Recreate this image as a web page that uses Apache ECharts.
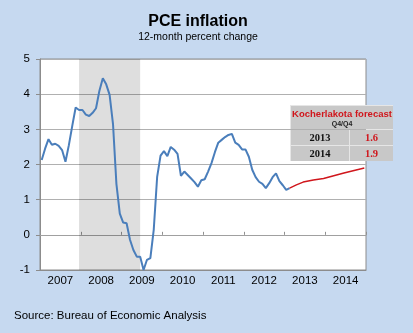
<!DOCTYPE html>
<html>
<head>
<meta charset="utf-8">
<script src="https://cdn.jsdelivr.net/npm/echarts@6/dist/echarts.min.js"></script>
<style>
  html, body { margin: 0; padding: 0; background: #c6d9f0; }
  #chart { width: 413px; height: 333px; }
</style>
</head>
<body>
<div id="chart"></div>
<script>
// PCE inflation, 12-month percent change, monthly from Jan 2007
const startYear = 2007;
const yearLabels = ['2007', '2008', '2009', '2010', '2011', '2012', '2013', '2014'];
const pceActual = [
  2.13, 2.45, 2.72, 2.56, 2.59, 2.53, 2.41, 2.08, 2.55, 3.10, 3.62, 3.55,
  3.55, 3.42, 3.38, 3.47, 3.60, 4.10, 4.45, 4.28, 3.98, 3.15, 1.45, 0.60,
  0.35, 0.33, -0.14, -0.43, -0.62, -0.62, -1.00, -0.71, -0.66, 0.15, 1.65, 2.25,
  2.38, 2.24, 2.50, 2.42, 2.30, 1.68, 1.80, 1.70, 1.60, 1.50, 1.37, 1.55,
  1.58, 1.80, 2.04, 2.35, 2.62, 2.70, 2.78, 2.84, 2.87, 2.62, 2.56, 2.43,
  2.43, 2.22, 1.85, 1.64, 1.51, 1.45, 1.33, 1.47, 1.64, 1.75, 1.53, 1.41,
  1.28, 1.33
];
// Forecast path: months since Jan 2007 and percent
const forecastMonths = [73, 75, 77, 80, 83, 86, 89, 92, 95];
const forecastPath   = [1.33, 1.42, 1.50, 1.56, 1.60, 1.68, 1.76, 1.83, 1.90];
// Forecast table (Q4/Q4)
const forecastYears = ['2013', '2014'];
const forecastValues = [1.6, 1.9];
// Recession: Dec 2007 to Jun 2009 (month indices)
const recessionStart = 11;
const recessionEnd = 29;
const yTicks = [-1, 0, 1, 2, 3, 4, 5];

const FONT = 'Liberation Sans, Arial, sans-serif';
const SERIF = 'Liberation Serif, Times New Roman, serif';
const RED = '#d0161c';

const actualData = pceActual.map((v, i) => [i + 0.5, v]);
const forecastData = forecastMonths.map((m, i) => [m + 0.5, forecastPath[i]]);
const totalMonths = yearLabels.length * 12;

const chart = echarts.init(document.getElementById('chart'), null, { renderer: 'canvas' });

// forecast table
const tX = 291, tY = 106, tW = 102, hH = 23, rH = 15, c1 = 58;
const tableEls = [
  { type: 'rect', shape: { x: tX - 1, y: tY - 1, width: tW + 1, height: hH + 2 * (rH + 1) + 1 }, style: { fill: '#e6e6e6' } },
  { type: 'rect', shape: { x: tX, y: tY, width: tW, height: hH }, style: { fill: '#c8c8c8' } },
  { type: 'text', style: { text: 'Kocherlakota forecast', x: tX + tW / 2, y: tY + 8.5, textAlign: 'center', textVerticalAlign: 'middle', fill: RED, font: 'bold 9.5px ' + FONT } },
  { type: 'text', style: { text: 'Q4/Q4', x: tX + tW / 2, y: tY + 18, textAlign: 'center', textVerticalAlign: 'middle', fill: '#222', font: 'bold 7px ' + FONT } }
];
forecastYears.forEach((yr, i) => {
  const ry = tY + hH + 1 + i * (rH + 1);
  tableEls.push(
    { type: 'rect', shape: { x: tX, y: ry, width: c1, height: rH }, style: { fill: '#c8c8c8' } },
    { type: 'rect', shape: { x: tX + c1 + 1, y: ry, width: tW - c1 - 1, height: rH }, style: { fill: '#c8c8c8' } },
    { type: 'text', style: { text: yr, x: tX + c1 / 2, y: ry + rH / 2 + 0.5, textAlign: 'center', textVerticalAlign: 'middle', fill: '#111', font: 'bold 10.5px ' + SERIF } },
    { type: 'text', style: { text: forecastValues[i].toFixed(1), x: tX + c1 + 1 + (tW - c1 - 1) / 2, y: ry + rH / 2 + 0.5, textAlign: 'center', textVerticalAlign: 'middle', fill: RED, font: 'bold 10.5px ' + SERIF } }
  );
});

chart.setOption({
  backgroundColor: '#c6d9f0',
  animation: false,
  title: [
    { text: 'PCE inflation', left: 198, top: 14, textAlign: 'center', padding: 0,
      textStyle: { fontSize: 16, fontWeight: 'bold', color: '#000', fontFamily: FONT } },
    { text: '12-month percent change', left: 198, top: 32, textAlign: 'center', padding: 0,
      textStyle: { fontSize: 10.5, fontWeight: 'normal', color: '#000', fontFamily: FONT } },
    { text: 'Source: Bureau of Economic Analysis', left: 14, top: 310, padding: 0,
      textStyle: { fontSize: 11.5, fontWeight: 'normal', color: '#000', fontFamily: FONT } }
  ],
  grid: {
    left: 40, right: 47, top: 59, bottom: 63,
    show: true, backgroundColor: '#ffffff', borderColor: '#8c8c8c', borderWidth: 1
  },
  xAxis: [
    {
      type: 'value', min: 0, max: totalMonths, interval: 12,
      axisLine: { show: true, onZero: true, lineStyle: { color: '#a0a0a0', width: 1 } },
      axisTick: { show: true, inside: true, length: 3, lineStyle: { color: '#909090' } },
      axisLabel: { show: false },
      splitLine: { show: false }
    },
    {
      type: 'category', data: yearLabels, position: 'bottom', boundaryGap: true,
      axisLine: { show: true, onZero: false, lineStyle: { color: '#8c8c8c' } },
      axisTick: { show: false },
      axisLabel: { color: '#000', fontSize: 11.5, fontFamily: FONT, margin: 5 },
      splitLine: { show: false }
    }
  ],
  yAxis: {
    type: 'value', min: yTicks[0], max: yTicks[yTicks.length - 1], interval: 1,
    axisLine: { show: true, lineStyle: { color: '#8c8c8c' } },
    axisTick: { show: true, length: 4, lineStyle: { color: '#8c8c8c' } },
    axisLabel: { color: '#000', fontSize: 11.5, fontFamily: FONT, margin: 10 },
    splitLine: { show: true, lineStyle: { color: '#b0b0b0', width: 1 } }
  },
  series: [
    {
      type: 'line', xAxisIndex: 0, data: actualData, showSymbol: false,
      lineStyle: { color: '#4a7ebb', width: 2 }, z: 3,
      markArea: {
        silent: true,
        itemStyle: { color: 'rgba(0,0,0,0.13)' },
        data: [[{ xAxis: recessionStart + 0.5 }, { xAxis: recessionEnd + 0.5 }]]
      }
    },
    {
      type: 'line', xAxisIndex: 0, data: forecastData, showSymbol: false,
      lineStyle: { color: RED, width: 1.5 }, z: 3
    }
  ],
  graphic: [{ type: 'group', z: 100, children: tableEls }]
});
</script>
</body>
</html>
